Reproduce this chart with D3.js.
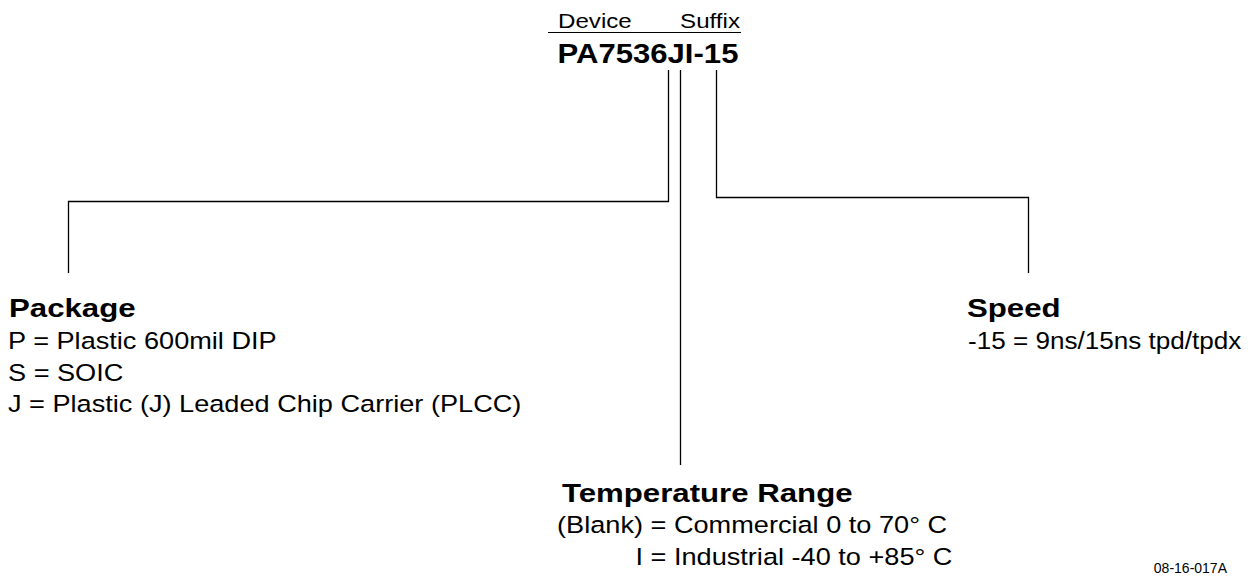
<!DOCTYPE html>
<html>
<head>
<meta charset="utf-8">
<script src="https://cdn.jsdelivr.net/npm/d3@7"></script>
<style>
  body { margin: 0; background: #fff; }
  text { font-family: Arial, "Liberation Sans", Helvetica, sans-serif; fill: #000; white-space: pre; }
</style>
</head>
<body>
<div id="diagram"></div>
<script>
var svgWidth = 1251;
var svgHeight = 577;

// part number and its pieces
var headerLabels = ["Device", "Suffix"];
var partNumber = "PA7536JI-15";
var figureId = "08-16-017A";

var fieldNames = ["Package", "Temperature Range", "Speed"];
var packageKeys = ["P", "S", "J"];
var packageValues = ["Plastic 600mil DIP", "SOIC", "Plastic (J) Leaded Chip Carrier (PLCC)"];
var tempKeys = ["(Blank)", "I"];
var tempValues = ["Commercial 0 to 70\u00B0 C", "Industrial -40 to +85\u00B0 C"];
var speedKeys = ["-15"];
var speedValues = ["9ns/15ns tpd/tpdx"];

// layout only (the source text is a bit wider than Arial, hence the x-stretch)
var stretchBody = 1.165;
var stretchSpeed = 1.12;
var stretchBold = 1.2;
var bodySize = "23.3px";
var titleSize = "26px";
var lineStep = 31.5;

var layout = {
  lineTop: 70,
  fields: [
    { tickX: 668.5, elbowY: 201.5, boxX: 68.5, lineEnd: 273, textX: 9, titleY: 317, bodyY: 349 },
    { tickX: 680.5, elbowY: null, boxX: 680.5, lineEnd: 465, textX: 562, titleY: 502, bodyY: 533 },
    { tickX: 716.5, elbowY: 197.5, boxX: 1028.5, lineEnd: 273, textX: 967, titleY: 317, bodyY: 349 }
  ]
};

var svg = d3.select("#diagram")
  .append("svg")
  .attr("width", svgWidth)
  .attr("height", svgHeight);

function place(sel, x, y, sx) {
  return sel.attr("transform", "translate(" + x + "," + y + ") scale(" + sx + ",1)");
}

// header
var head = svg.append("g");
place(head.append("text"), 558, 28, 1.15)
  .style("font-size", "21px")
  .text(headerLabels[0]);
place(head.append("text"), 740, 28, 1.15)
  .attr("text-anchor", "end")
  .style("font-size", "21px")
  .text(headerLabels[1]);
head.append("line")
  .attr("x1", 548)
  .attr("x2", 741)
  .attr("y1", 32.5)
  .attr("y2", 32.5)
  .attr("stroke", "#000")
  .attr("stroke-width", 1.2);

place(head.append("text"), 648, 62.5, 1.11)
  .attr("text-anchor", "middle")
  .style("font-size", "28px")
  .style("font-weight", "bold")
  .text(partNumber);

// connector lines
var line = d3.line();
svg.append("g")
  .selectAll("path")
  .data(layout.fields)
  .enter()
  .append("path")
  .attr("d", function (f) {
    var pts = [[f.tickX, layout.lineTop]];
    if (f.elbowY !== null) {
      pts.push([f.tickX, f.elbowY]);
      pts.push([f.boxX, f.elbowY]);
    }
    pts.push([f.boxX, f.lineEnd]);
    return line(pts);
  })
  .attr("fill", "none")
  .attr("stroke", "#000")
  .attr("stroke-width", 1.3);

// field titles
svg.append("g")
  .selectAll("text")
  .data(fieldNames)
  .enter()
  .append("text")
  .attr("transform", function (d, i) {
    var f = layout.fields[i];
    return "translate(" + f.textX + "," + f.titleY + ") scale(" + stretchBold + ",1)";
  })
  .style("font-size", titleSize)
  .style("font-weight", "bold")
  .text(function (d) { return d; });

// package options
svg.append("g")
  .selectAll("text")
  .data(packageKeys)
  .enter()
  .append("text")
  .attr("transform", function (d, i) {
    var f = layout.fields[0];
    return "translate(" + (f.textX - 1) + "," + (f.bodyY + i * lineStep) + ") scale(" + stretchBody + ",1)";
  })
  .style("font-size", bodySize)
  .text(function (d, i) { return d + " = " + packageValues[i]; });

// speed options
svg.append("g")
  .selectAll("text")
  .data(speedKeys)
  .enter()
  .append("text")
  .attr("transform", function (d, i) {
    var f = layout.fields[2];
    return "translate(" + (f.textX + 1) + "," + (f.bodyY + i * lineStep) + ") scale(" + stretchSpeed + ",1)";
  })
  .style("font-size", bodySize)
  .text(function (d, i) { return d + " = " + speedValues[i]; });

// temperature options, lined up on the "="
var eqX = 643;
var tempRows = svg.append("g")
  .selectAll("g")
  .data(tempKeys)
  .enter()
  .append("g")
  .attr("transform", function (d, i) {
    return "translate(" + eqX + "," + (layout.fields[1].bodyY + i * lineStep) + ") scale(" + stretchBody + ",1)";
  });
tempRows.append("text")
  .attr("text-anchor", "end")
  .style("font-size", bodySize)
  .text(function (d) { return d; });
tempRows.append("text")
  .style("font-size", bodySize)
  .text(function (d, i) { return " = " + tempValues[i]; });

// figure id
svg.append("text")
  .attr("x", 1227)
  .attr("y", 573)
  .attr("text-anchor", "end")
  .style("font-size", "14px")
  .text(figureId);
</script>
</body>
</html>
